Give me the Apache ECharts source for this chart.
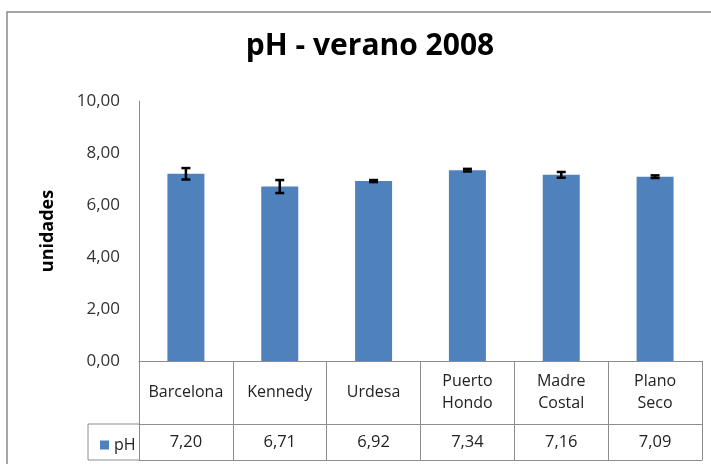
<!DOCTYPE html>
<html>
<head>
<meta charset="utf-8">
<script src="https://cdn.jsdelivr.net/npm/echarts@6/dist/echarts.min.js"></script>
<style>
  html, body { margin: 0; padding: 0; background: #fff; }
  #chart { width: 711px; height: 464px; }
</style>
</head>
<body>
<div id="chart"></div>
<script>
// ===== 数据 =====
const categories = ['Barcelona', 'Kennedy', 'Urdesa', 'Puerto\nHondo', 'Madre\nCostal', 'Plano\nSeco']
const phValues = [7.20, 6.71, 6.92, 7.34, 7.16, 7.09]
// 误差棒（±）
const phErrors = [0.22, 0.25, 0.04, 0.05, 0.11, 0.05]
const yTicks = [0, 2, 4, 6, 8, 10]

const FONT = "'Open Sans', 'Liberation Sans', sans-serif"
const LINE = '#8c8c8c'
const BAR = '#4f81bd'

// 数字用逗号作小数点
const fmt = (v) => v.toFixed(2).replace('.', ',')

const chart = echarts.init(document.getElementById('chart'))

// 误差棒数据：[索引, 下限, 上限]
const errData = phValues.map((v, i) => [i, v - phErrors[i], v + phErrors[i]])

function renderError(params, api) {
  const x = api.value(0)
  const lo = api.coord([x, api.value(1)])
  const hi = api.coord([x, api.value(2)])
  const cap = 4.5
  const style = { stroke: '#000', lineWidth: 2.5 }
  return {
    type: 'group',
    children: [
      { type: 'line', shape: { x1: lo[0], y1: lo[1], x2: hi[0], y2: hi[1] }, style },
      { type: 'line', shape: { x1: hi[0] - cap, y1: hi[1], x2: hi[0] + cap, y2: hi[1] }, style },
      { type: 'line', shape: { x1: lo[0] - cap, y1: lo[1], x2: lo[0] + cap, y2: lo[1] }, style },
    ],
  }
}

chart.setOption({
  animation: false,
  title: {
    text: 'pH - verano 2008',
    left: 365,
    textAlign: 'center',
    top: 26,
    textStyle: { fontFamily: FONT, fontSize: 30, fontWeight: 'bold', color: '#000' },
  },
  legend: {
    data: ['pH'],
    left: 95,
    top: 432,
    itemWidth: 9,
    itemHeight: 9,
    itemGap: 4,
    icon: 'rect',
    textStyle: { fontFamily: FONT, fontSize: 16, color: '#222' },
  },
  grid: { left: 139, right: 9, top: 101, bottom: 103 },
  xAxis: [
    {
      // 类别行
      type: 'category',
      data: categories,
      axisLine: { lineStyle: { color: LINE } },
      axisTick: { show: true, interval: 0, length: 63, lineStyle: { color: LINE } },
      axisLabel: {
        interval: 0, hideOverlap: false,
        fontFamily: FONT, fontSize: 16, color: '#222',
        margin: 31, verticalAlign: 'middle', lineHeight: 22,
      },
    },
    {
      // 数值行
      type: 'category',
      data: categories,
      position: 'bottom',
      offset: 63,
      axisLine: { lineStyle: { color: LINE } },
      axisTick: { show: true, interval: 0, length: 36, lineStyle: { color: LINE } },
      axisLabel: {
        interval: 0,
        fontFamily: FONT, fontSize: 16.5, color: '#222',
        margin: 18, verticalAlign: 'middle',
        formatter: (val, idx) => fmt(phValues[idx]),
      },
    },
    {
      // 表格底线
      type: 'category',
      data: categories,
      position: 'bottom',
      offset: 99,
      axisLine: { lineStyle: { color: LINE } },
      axisTick: { show: false },
      axisLabel: { show: false },
    },
  ],
  yAxis: {
    type: 'value',
    min: yTicks[0],
    max: yTicks[yTicks.length - 1],
    interval: 2,
    name: 'unidades',
    nameLocation: 'middle',
    nameGap: 82,
    nameTextStyle: { fontFamily: FONT, fontSize: 18, fontWeight: 'bold', color: '#000' },
    axisLine: { show: true, lineStyle: { color: LINE } },
    axisTick: { show: false },
    splitLine: { show: false },
    axisLabel: {
      fontFamily: FONT, fontSize: 17, color: '#333', margin: 19,
      formatter: (v) => fmt(v),
    },
  },
  series: [
    {
      name: 'pH',
      type: 'bar',
      data: phValues,
      barWidth: 37,
      itemStyle: { color: BAR },
    },
    {
      name: 'error',
      type: 'custom',
      data: errData,
      renderItem: renderError,
      z: 10,
    },
  ],
  graphic: [
    // 外框
    { type: 'rect', shape: { x: 7, y: 12, width: 720, height: 470 }, style: { fill: null, stroke: '#888', lineWidth: 1.5 }, silent: true },
    // 图例单元格边框
    { type: 'polyline', shape: { points: [[139, 424], [88, 424], [88, 460], [139, 460]] }, style: { fill: null, stroke: LINE, lineWidth: 1 }, silent: true },
  ],
})
</script>
</body>
</html>
